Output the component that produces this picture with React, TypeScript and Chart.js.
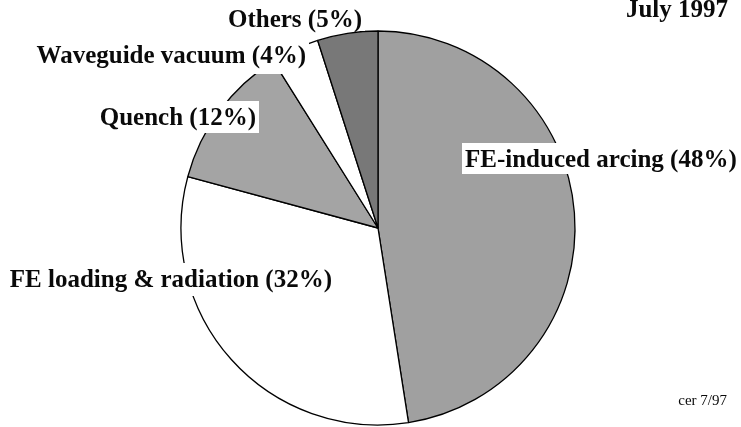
import React, { useEffect, useRef } from "react";
import { Chart, registerables } from "chart.js";

Chart.register(...registerables);

const categories = [
  "FE-induced arcing",
  "FE loading & radiation",
  "Quench",
  "Waveguide vacuum",
  "Others",
];
const shares = [48, 32, 12, 4, 5];
const sliceColors = ["#a0a0a0", "#ffffff", "#a4a4a4", "#ffffff", "#787878"];
const titleText = "July 1997";
const footnoteText = "cer 7/97";

// label anchors: [x, baseline y, align, box bottom padding]
const labelAnchors: [number, number, CanvasTextAlign, number][] = [
  [465, 167, "left", 7],
  [332, 287, "right", 9],
  [256, 125, "right", 8],
  [306, 63, "right", 11],
  [362, 27, "right", 4],
];

const labelPlugin = {
  id: "sliceLabels",
  afterDatasetsDraw(chart: any) {
    const ctx = chart.ctx as CanvasRenderingContext2D;
    ctx.save();
    const font = 'bold 25px "Liberation Serif", "Times New Roman", serif';
    ctx.font = font;
    ctx.textBaseline = "alphabetic";
    categories.forEach((c, i) => {
      const text = `${c} (${shares[i]}%)`;
      const [x, y, align, padB] = labelAnchors[i];
      const w = ctx.measureText(text).width;
      const left = align === "left" ? x : x - w;
      ctx.fillStyle = "#ffffff";
      ctx.fillRect(left - 3, y - 24, w + 6, 24 + padB);
      ctx.fillStyle = "#0a0a0a";
      ctx.textAlign = "left";
      ctx.fillText(text, left, y);
    });
    ctx.font = font;
    ctx.textAlign = "right";
    ctx.fillStyle = "#0a0a0a";
    ctx.fillText(titleText, 728, 17);
    ctx.font = '15px "Liberation Serif", "Times New Roman", serif';
    ctx.fillText(footnoteText, 727, 405);
    ctx.restore();
  },
};

export default function App() {
  const canvasRef = useRef<HTMLCanvasElement | null>(null);

  useEffect(() => {
    document.body.style.margin = "0";
    const canvas = canvasRef.current;
    if (!canvas) return;
    const chart = new Chart(canvas, {
      type: "pie",
      data: {
        labels: categories,
        datasets: [
          {
            data: shares,
            backgroundColor: sliceColors,
            borderColor: "#000000",
            borderWidth: 1.3,
          },
        ],
      },
      options: {
        animation: false,
        responsive: true,
        maintainAspectRatio: false,
        radius: 197,
        layout: { padding: { left: 15, right: 0, top: 29, bottom: 0 } },
        plugins: {
          legend: { display: false },
          tooltip: { enabled: false },
        },
      } as any,
      plugins: [labelPlugin],
    });
    return () => chart.destroy();
  }, []);

  return (
    <div style={{ position: "relative", width: 741, height: 427, background: "#ffffff" }}>
      <canvas ref={canvasRef} />
    </div>
  );
}
